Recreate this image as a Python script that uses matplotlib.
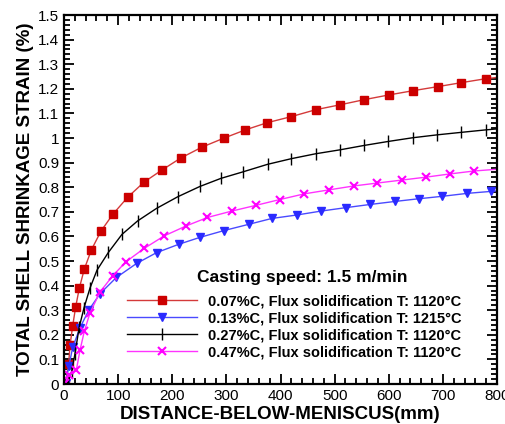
import matplotlib
matplotlib.use("Agg")
import matplotlib.pyplot as plt
from matplotlib.ticker import MultipleLocator

plt.rcParams['font.family'] = ['Liberation Sans', 'DejaVu Sans']

# distance below meniscus (mm) and total shell shrinkage strain (%)
x_007 = [2.5, 8.6, 11.1, 16.0, 21.6, 28.3, 37.5, 50.5, 68.4, 90.6, 118, 148, 181, 216, 255,
         296, 335, 375, 420, 465, 510, 555, 600, 644, 691, 734, 779, 800]
y_007 = [0.0, 0.083, 0.157, 0.236, 0.314, 0.390, 0.467, 0.545, 0.622, 0.691, 0.760, 0.821,
         0.870, 0.919, 0.963, 1.000, 1.033, 1.062, 1.087, 1.115, 1.135, 1.156, 1.175, 1.192,
         1.209, 1.225, 1.241, 1.246]

x_013 = [3, 9.2, 16, 29.6, 46.2, 66.5, 96.7, 134, 171, 212, 251, 296, 341, 384, 430, 475,
         521, 566, 611, 655, 699, 745, 789, 800]
y_013 = [0.003, 0.075, 0.149, 0.229, 0.302, 0.367, 0.433, 0.490, 0.534, 0.568, 0.596, 0.624,
         0.649, 0.673, 0.687, 0.703, 0.717, 0.730, 0.742, 0.753, 0.763, 0.775, 0.783, 0.785]

x_027 = [2, 8, 14, 20, 28, 37, 48, 61, 82, 107, 136, 171, 210, 251, 290, 330, 376, 420, 465,
         510, 555, 599, 644, 690, 734, 779, 800]
y_027 = [0.0, 0.01, 0.05, 0.12, 0.23, 0.31, 0.39, 0.463, 0.535, 0.608, 0.663, 0.714, 0.761,
         0.803, 0.836, 0.862, 0.893, 0.916, 0.936, 0.952, 0.970, 0.986, 1.001, 1.013, 1.023,
         1.033, 1.037]

x_047 = [1.8, 9.2, 22.7, 29.6, 37.5, 48, 66.5, 90, 115, 148, 185, 225, 265, 310, 354, 399,
         444, 489, 535, 579, 624, 669, 713, 758, 800]
y_047 = [0.003, 0.038, 0.056, 0.138, 0.214, 0.289, 0.374, 0.440, 0.498, 0.551, 0.602, 0.642,
         0.677, 0.703, 0.726, 0.750, 0.773, 0.789, 0.805, 0.817, 0.829, 0.841, 0.854, 0.866,
         0.873]

labels = ['0.07%C, Flux solidification T: 1120°C',
          '0.13%C, Flux solidification T: 1215°C',
          '0.27%C, Flux solidification T: 1120°C',
          '0.47%C, Flux solidification T: 1120°C']

fig = plt.figure(figsize=(5.06, 4.24), dpi=100)
ax = fig.add_axes([0.1265, 0.0943, 0.8557, 0.8703])

skip_last = slice(0, -1)
ax.plot(x_007, y_007, color='#d43a3a', lw=1, marker='s', ms=6, mfc='#cc0000', mec='#cc0000',
        markevery=skip_last, label=labels[0])
ax.plot(x_013, y_013, color='#4a4aff', lw=1, marker='v', ms=6, mfc='#2a2aff', mec='#2a2aff',
        markevery=skip_last, label=labels[1])
ax.plot(x_027, y_027, color='black', lw=1, marker='|', ms=9, mew=1,
        markevery=skip_last, label=labels[2])
ax.plot(x_047, y_047, color='#ff33ff', lw=1, marker='x', ms=6, mew=1.5, mec='#ff00ff',
        markevery=skip_last, label=labels[3])

ax.set_xlim(0, 800)
ax.set_ylim(0, 1.5)
ax.xaxis.set_major_locator(MultipleLocator(100))
ax.xaxis.set_minor_locator(MultipleLocator(20))
ax.yaxis.set_major_locator(MultipleLocator(0.1))
ax.yaxis.set_minor_locator(MultipleLocator(0.02))
ax.yaxis.set_major_formatter(lambda v, p: '%g' % round(v, 2))

ax.tick_params(which='both', direction='in', top=True, right=True, width=1.3, labelsize=11)
ax.tick_params(which='major', length=7)
ax.tick_params(which='minor', length=4)
for s in ax.spines.values():
    s.set_linewidth(1.6)

ax.set_xlabel('DISTANCE-BELOW-MENISCUS(mm)', fontsize=13.5, fontweight='bold', labelpad=2)
ax.set_ylabel('TOTAL SHELL SHRINKAGE STRAIN (%)', fontsize=13.5, fontweight='bold', labelpad=3)

ax.text(0.308, 0.289, 'Casting speed: 1.5 m/min', transform=ax.transAxes,
        fontsize=12.5, fontweight='bold', va='center', ha='left')
ax.legend(loc='upper left', bbox_to_anchor=(0.129, 0.263), frameon=False, borderpad=0,
          handlelength=4.8, handletextpad=0.75, labelspacing=0.2,
          prop={'weight': 'bold', 'size': 10.5})

fig.savefig('out.png', dpi=100)
